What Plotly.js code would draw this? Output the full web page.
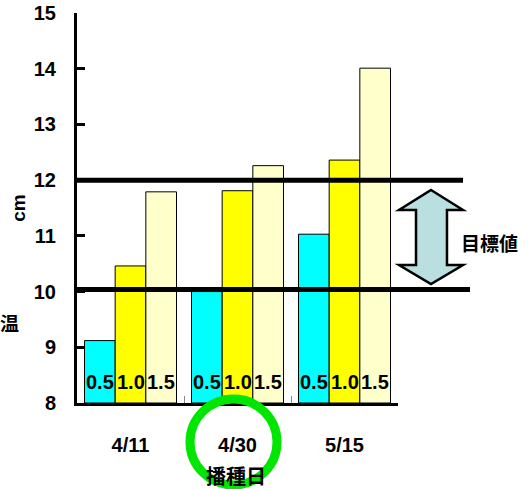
<!DOCTYPE html>
<html>
<head>
<meta charset="utf-8">
<script src="https://cdn.plot.ly/plotly-3.0.1.min.js"></script>
<style>
  html, body { margin: 0; padding: 0; background: #fff; }
  #chart { width: 532px; height: 489px; }
</style>
</head>
<body>
<div id="chart"></div>
<script>
// Sowing dates and seedling height (cm) for three treatments
const sowingDates = ['4/11', '4/30', '5/15'];
const seriesNames = ['0.5', '1.0', '1.5'];
const height05 = [9.12, 10.0, 11.03];
const height10 = [10.46, 11.81, 12.36];
const height15 = [11.79, 12.26, 14.01];
const targetLow = 10;
const targetHigh = 12;

const FONT = 'Liberation Sans, Arial, sans-serif';
const CJK = 'Noto Sans CJK JP, sans-serif';
const colors = ['#00ffff', '#ffff00', '#ffffcc'];
const seriesValues = [height05, height10, height15];

const yMin = 8, yMax = 15;
const BARGAP = 0.14;

// plot area in pixels
const L = 77, T = 13, W = 321, H = 390;
const px = x => (x - L) / W;
const py = y => (T + H - y) / H;
const yv = v => (v - yMin) / (yMax - yMin);
const barW = W / sowingDates.length * (1 - BARGAP) / seriesValues.length;

// bars rise from the bottom of the axis (8 cm) to each value
const traces = seriesValues.map((vals, i) => ({
  type: 'bar',
  name: seriesNames[i],
  x: sowingDates,
  y: vals.map(v => v - yMin),
  base: yMin,
  marker: { color: colors[i], line: { color: '#000', width: 1 } },
  hoverinfo: 'skip'
}));

// series name written near the foot of each bar
const barLabels = [];
seriesValues.forEach((vals, i) => {
  sowingDates.forEach(d => {
    barLabels.push({
      xref: 'x', yref: 'y', x: d, y: yMin,
      xshift: (i - (seriesValues.length - 1) / 2) * barW,
      yshift: 8,
      text: seriesNames[i], showarrow: false,
      xanchor: 'center', yanchor: 'bottom',
      font: { family: FONT, size: 20, weight: 'bold', color: '#000' }
    });
  });
});

// double-headed arrow between the two target lines
const arrowPts = [
  [431, 190], [463, 210], [447, 210], [447, 265], [463, 265],
  [431, 284], [399, 265], [416, 265], [416, 210], [399, 210]
];
const arrowPath = 'M ' + arrowPts.map(p => px(p[0]).toFixed(4) + ',' + py(p[1]).toFixed(4)).join(' L ') + ' Z';

const layout = {
  width: 532,
  height: 489,
  margin: { l: L, r: 532 - L - W, t: T, b: 489 - T - H },
  paper_bgcolor: '#fff',
  plot_bgcolor: '#fff',
  showlegend: false,
  barmode: 'group',
  bargap: BARGAP,
  bargroupgap: 0,
  font: { family: FONT, color: '#000' },
  xaxis: {
    type: 'category',
    range: [-0.5, 2.5],
    showline: true,
    linecolor: '#000',
    linewidth: 3,
    ticks: 'inside',
    tickson: 'boundaries',
    ticklen: 7,
    tickwidth: 1,
    tickcolor: '#888',
    ticklabelstandoff: 22,
    tickfont: { family: FONT, size: 20, weight: 'bold' },
    showgrid: false,
    zeroline: false,
    fixedrange: true
  },
  yaxis: {
    range: [yMin, yMax],
    dtick: 1,
    showline: true,
    linecolor: '#000',
    linewidth: 3,
    ticks: 'inside',
    ticklen: 8,
    tickwidth: 3,
    tickcolor: '#000',
    ticklabelstandoff: 14,
    tickfont: { family: FONT, size: 20, weight: 'bold' },
    title: { text: 'cm', standoff: 4, font: { family: FONT, size: 19, weight: 'bold' } },
    showgrid: false,
    zeroline: false,
    fixedrange: true
  },
  shapes: [
    { type: 'line', xref: 'paper', yref: 'paper', x0: 0, x1: px(463), y0: yv(targetHigh), y1: yv(targetHigh),
      line: { color: '#000', width: 5 }, layer: 'above' },
    { type: 'line', xref: 'paper', yref: 'paper', x0: 0, x1: px(470), y0: yv(targetLow) + 0.005, y1: yv(targetLow) + 0.005,
      line: { color: '#000', width: 5 }, layer: 'above' },
    { type: 'path', xref: 'paper', yref: 'paper', path: arrowPath,
      fillcolor: '#b9dfe1', line: { color: '#000', width: 2.5 }, layer: 'above' },
    { type: 'circle', xref: 'paper', yref: 'paper',
      x0: px(190), x1: px(277), y0: py(485), y1: py(399),
      line: { color: '#00e600', width: 9 }, layer: 'above' }
  ],
  annotations: barLabels.concat([
    { xref: 'paper', yref: 'paper', x: px(236), y: py(475), text: '播種日', showarrow: false,
      xanchor: 'center', yanchor: 'middle', font: { family: CJK, size: 20, weight: 'bold', color: '#000' } },
    { xref: 'paper', yref: 'paper', x: px(459), y: py(242), text: '目標値', showarrow: false,
      xanchor: 'left', yanchor: 'middle', font: { family: CJK, size: 19, weight: 'bold', color: '#000' } },
    { xref: 'paper', yref: 'paper', x: px(9), y: py(322), text: '温', showarrow: false,
      xanchor: 'center', yanchor: 'middle', font: { family: CJK, size: 19, weight: 'bold', color: '#000' } }
  ])
};

Plotly.newPlot('chart', traces, layout, { staticPlot: true, displayModeBar: false });
</script>
</body>
</html>
